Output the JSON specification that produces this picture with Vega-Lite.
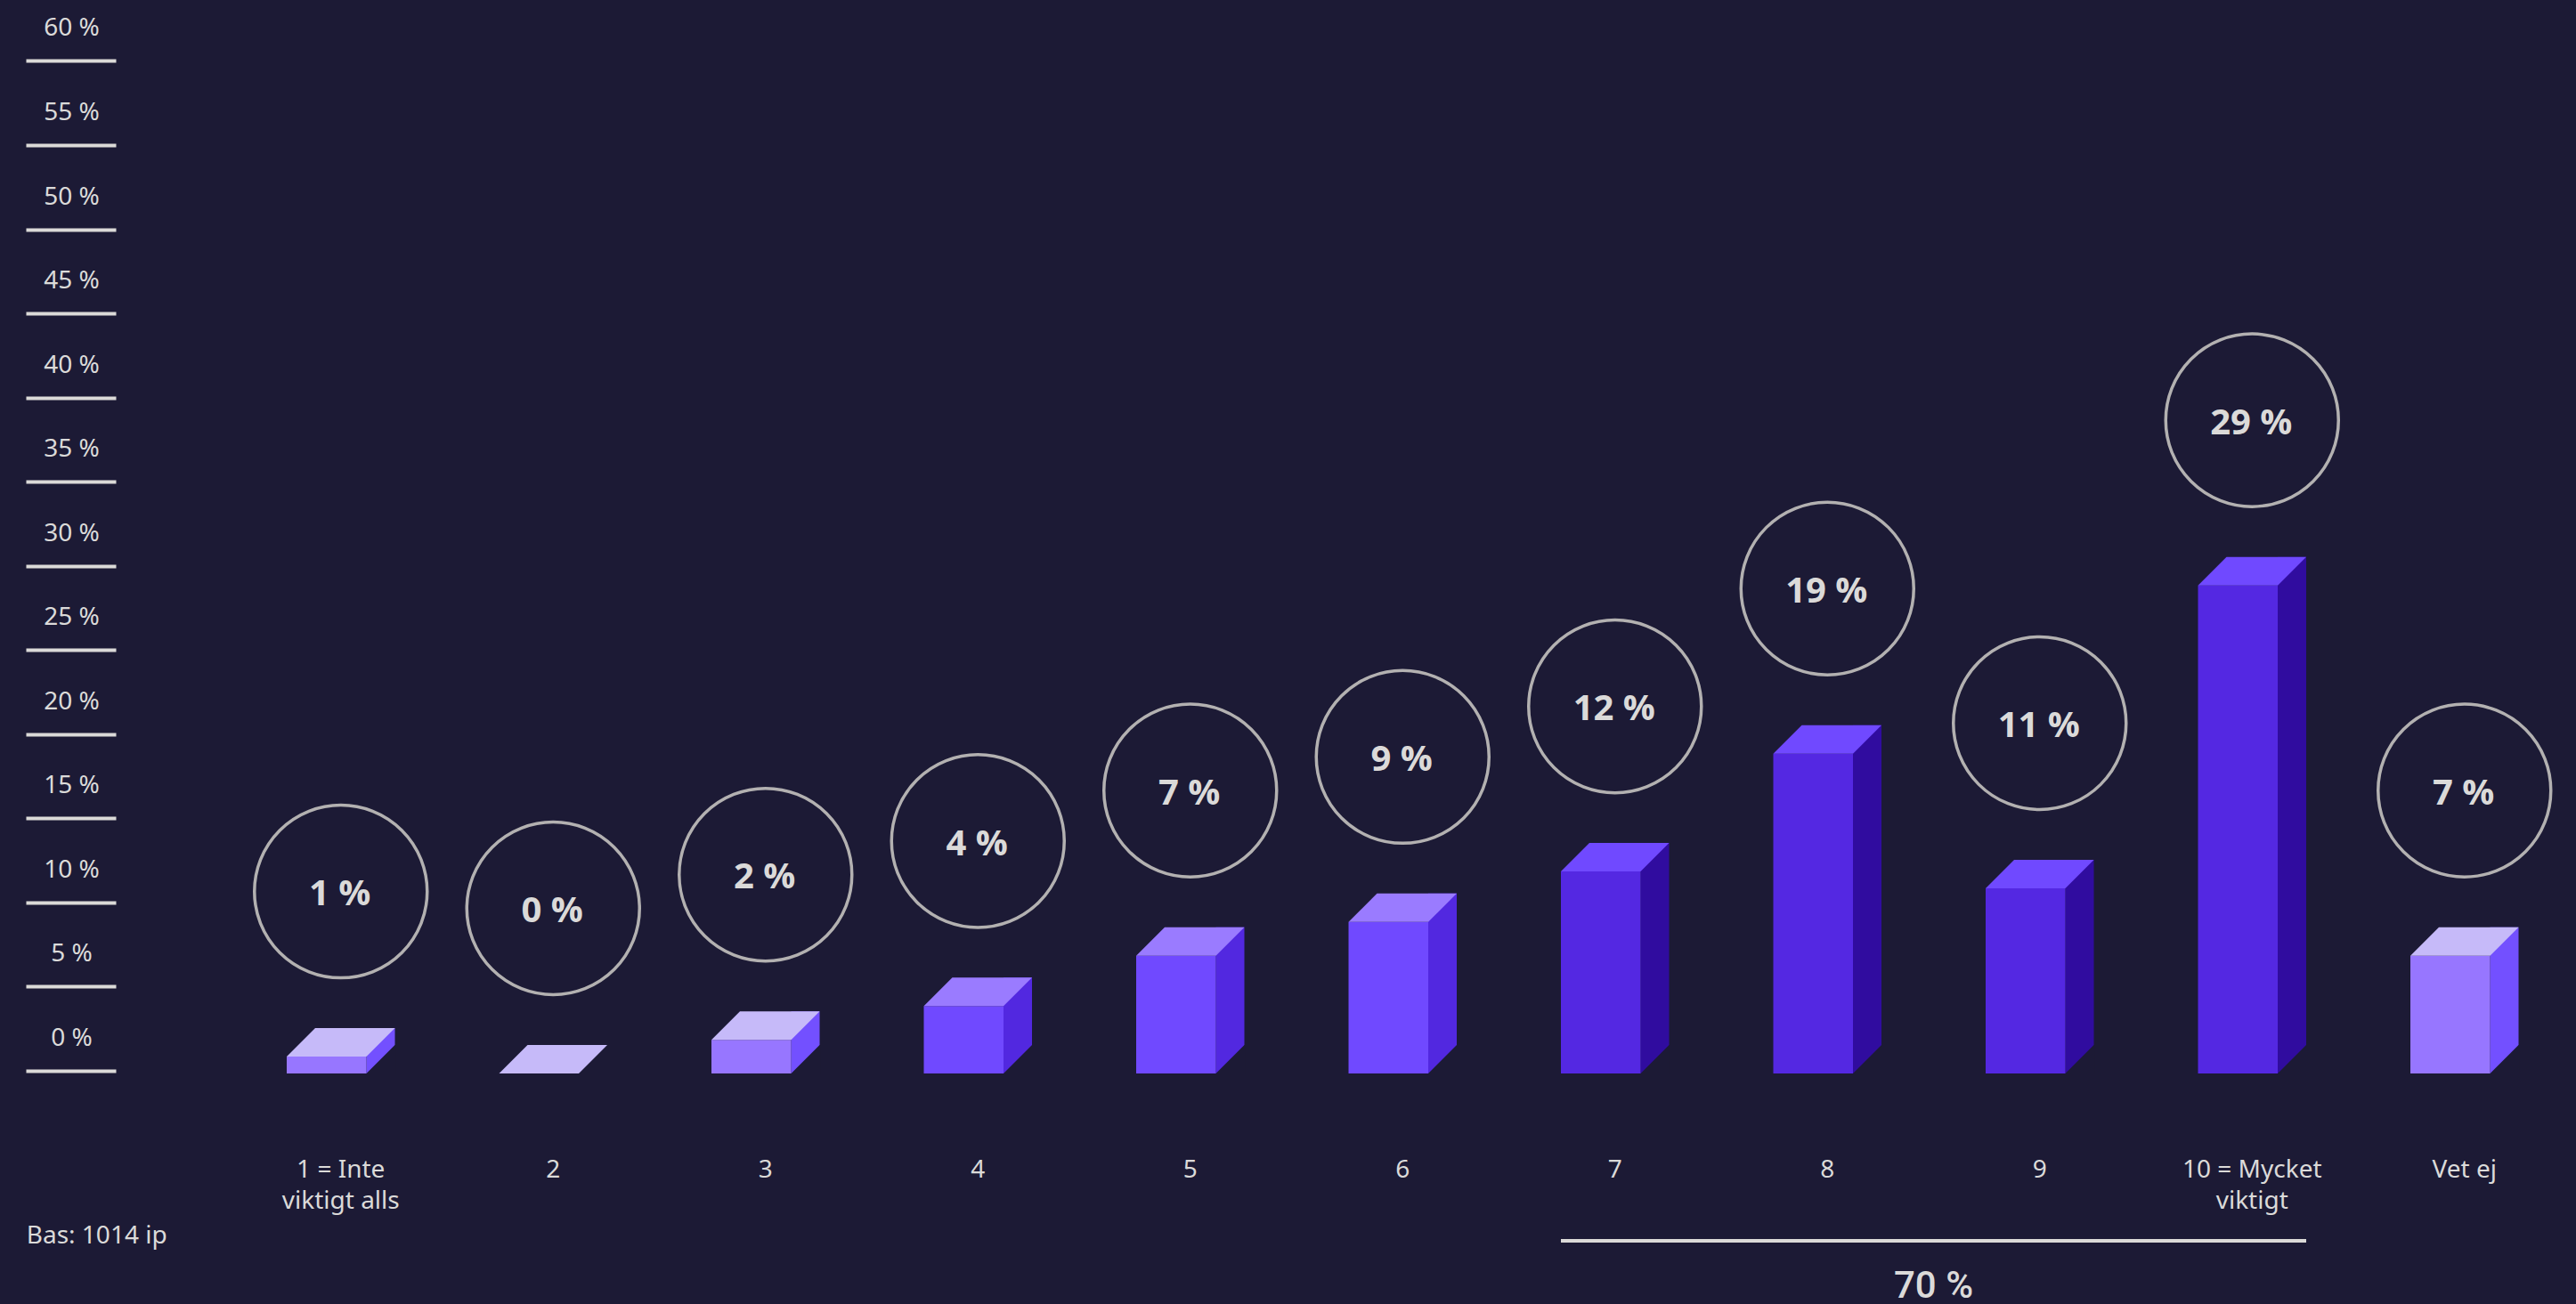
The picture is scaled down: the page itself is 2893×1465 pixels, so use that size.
{
  "$schema": "https://vega.github.io/schema/vega-lite/v6.json",
  "width": 2893,
  "height": 1206,
  "autosize": {"type": "none"},
  "padding": {"left": 0, "top": 0, "right": 0, "bottom": 259},
  "background": "#1c1a35",
  "config": {"view": {"stroke": null}},
  "data": {
    "values": [
      {"answer": "1 = Inte viktigt alls", "value": 1, "tone": "light", "pct": "1 %"},
      {"answer": "2", "value": 0, "tone": "light", "pct": "0 %"},
      {"answer": "3", "value": 2, "tone": "light", "pct": "2 %"},
      {"answer": "4", "value": 4, "tone": "medium", "pct": "4 %"},
      {"answer": "5", "value": 7, "tone": "medium", "pct": "7 %"},
      {"answer": "6", "value": 9, "tone": "medium", "pct": "9 %"},
      {"answer": "7", "value": 12, "tone": "dark", "pct": "12 %"},
      {"answer": "8", "value": 19, "tone": "dark", "pct": "19 %"},
      {"answer": "9", "value": 11, "tone": "dark", "pct": "11 %"},
      {"answer": "10 = Mycket viktigt", "value": 29, "tone": "dark", "pct": "29 %"},
      {"answer": "Vet ej", "value": 7, "tone": "light", "pct": "7 %"}
    ]
  },
  "encoding": {
    "x": {
      "field": "answer",
      "type": "nominal",
      "title": null,
      "scale": {
        "domain": ["1 = Inte viktigt alls", "2", "3", "4", "5", "6", "7", "8", "9", "10 = Mycket viktigt", "Vet ej"],
        "range": [247.5, 2871],
        "padding": 0
      },
      "axis": {
        "orient": "bottom",
        "domain": false,
        "ticks": false,
        "tickSize": 0,
        "labelAngle": 0,
        "labelOverlap": false,
        "labelFlush": false,
        "labelPadding": 116,
        "labelOffset": 16,
        "labelAlign": "center",
        "labelBaseline": "alphabetic",
        "labelFont": "Noto Sans",
        "labelFontSize": 28,
        "labelLineHeight": 35,
        "labelColor": "#dbdad9",
        "labelExpr": "datum.value == '1 = Inte viktigt alls' ? ['1 = Inte', 'viktigt alls'] : datum.value == '10 = Mycket viktigt' ? ['10 = Mycket', 'viktigt'] : datum.value"
      }
    },
    "y": {
      "field": "value",
      "type": "quantitative",
      "title": null,
      "scale": {"domain": [0, 63.78], "nice": false, "zero": false},
      "axis": {
        "orient": "left",
        "offset": -130,
        "values": [0, 5, 10, 15, 20, 25, 30, 35, 40, 45, 50, 55, 60],
        "domain": false,
        "grid": false,
        "tickSize": 101,
        "tickWidth": 4,
        "tickColor": "#dbdad8",
        "tickOffset": -3,
        "labelOffset": -28.5,
        "labelPadding": -51,
        "labelAlign": "center",
        "labelBaseline": "alphabetic",
        "labelFont": "Noto Sans",
        "labelFontSize": 28,
        "labelColor": "#dbdad9",
        "labelExpr": "datum.value + ' %'"
      }
    }
  },
  "layer": [
    {
      "description": "Receding right-hand face of each block; its upper corner is trimmed by the top face",
      "transform": [{"filter": "datum.value > 0"}],
      "mark": {"type": "bar", "width": 32, "xOffset": 60.75, "yOffset": -32},
      "encoding": {
        "y2": {"datum": 0},
        "color": {
          "field": "tone",
          "type": "nominal",
          "legend": null,
          "scale": {"domain": ["light", "medium", "dark"], "range": ["#7350ff", "#5228e0", "#300c9f"]}
        }
      }
    },
    {
      "description": "Background wedge that slopes the foot of the side face",
      "transform": [{"filter": "datum.value > 0"}],
      "mark": {
        "type": "point",
        "shape": "M 44.75 0 L 44.75 1 L 77.75 1 L 77.75 -32 L 76.75 -32 Z",
        "size": 4,
        "filled": true,
        "opacity": 1,
        "strokeWidth": 0,
        "color": "#1c1a35"
      },
      "encoding": {"y": {"datum": 0, "type": "quantitative"}}
    },
    {
      "description": "Front face of each block",
      "mark": {"type": "bar", "width": 89.5},
      "encoding": {
        "y2": {"datum": 0},
        "color": {
          "field": "tone",
          "type": "nominal",
          "legend": null,
          "scale": {"domain": ["light", "medium", "dark"], "range": ["#9776ff", "#7049ff", "#5428e2"]}
        }
      }
    },
    {
      "description": "Top face of each block",
      "mark": {
        "type": "point",
        "shape": "M -44.75 0 L -12.75 -32 L 76.75 -32 L 44.75 0 Z",
        "size": 4,
        "filled": true,
        "opacity": 1,
        "strokeWidth": 0
      },
      "encoding": {
        "color": {
          "field": "tone",
          "type": "nominal",
          "legend": null,
          "scale": {"domain": ["light", "medium", "dark"], "range": ["#c6baf9", "#9a7bff", "#7049ff"]}
        }
      }
    },
    {
      "description": "Ring floating above each block",
      "mark": {
        "type": "point",
        "shape": "circle",
        "size": 37636,
        "filled": false,
        "opacity": 1,
        "stroke": "#b3b1b1",
        "strokeWidth": 3.5,
        "xOffset": 16,
        "yOffset": -185.5
      }
    },
    {
      "description": "Share written inside the ring",
      "mark": {
        "type": "text",
        "font": "Open Sans",
        "fontWeight": "bold",
        "fontSize": 40,
        "align": "center",
        "baseline": "alphabetic",
        "color": "#dbdad9",
        "xOffset": 15,
        "yOffset": -169.7
      },
      "encoding": {"text": {"field": "pct", "type": "nominal"}}
    },
    {
      "description": "Bracket under answers 7 to 10",
      "transform": [{"filter": "datum.answer === '7'"}],
      "mark": {"type": "rule", "strokeWidth": 4, "color": "#dbdad8", "xOffset": -44.75, "x2Offset": 76.75},
      "encoding": {
        "x2": {"datum": "10 = Mycket viktigt"},
        "y": {"datum": -9.94, "type": "quantitative"}
      }
    },
    {
      "description": "Combined share of answers 7 to 10",
      "transform": [{"filter": "datum.answer === '8'"}],
      "mark": {
        "type": "text",
        "text": "70 %",
        "font": "Roboto",
        "fontWeight": 500,
        "fontSize": 42,
        "align": "center",
        "baseline": "alphabetic",
        "color": "#dbdad9",
        "xOffset": 135.25
      },
      "encoding": {
        "y": {"datum": -13.33, "type": "quantitative"}
      }
    },
    {
      "description": "Sample size note",
      "transform": [{"filter": "datum.answer === '1 = Inte viktigt alls'"}],
      "mark": {
        "type": "text",
        "text": "Bas: 1014 ip",
        "font": "Noto Sans",
        "fontSize": 28,
        "align": "left",
        "baseline": "alphabetic",
        "color": "#dbdad9",
        "xOffset": -337
      },
      "encoding": {
        "y": {"datum": -10.09, "type": "quantitative"}
      }
    }
  ],
  "resolve": {"scale": {"color": "independent"}}
}
